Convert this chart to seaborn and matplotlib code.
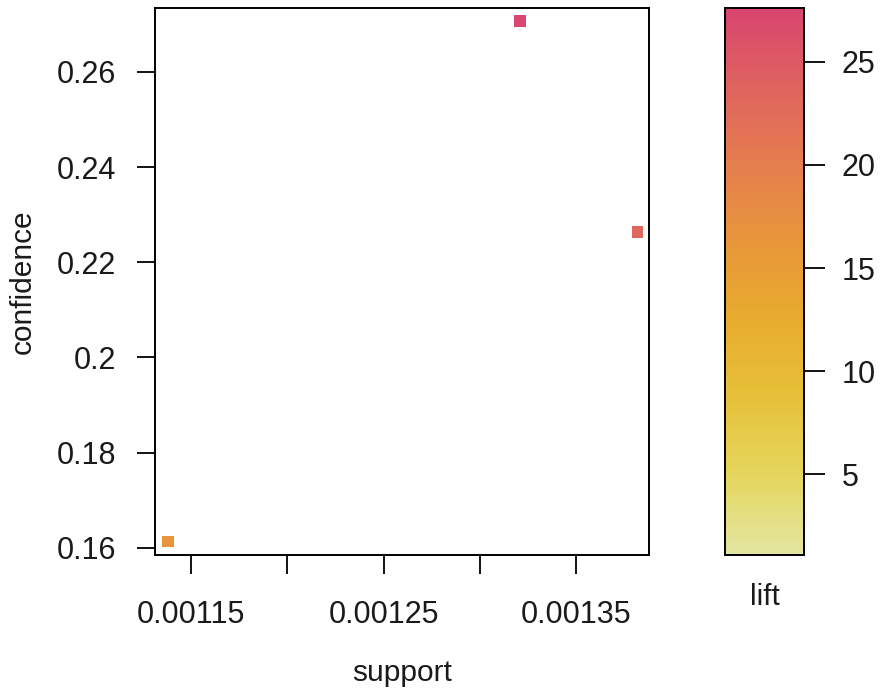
import numpy as np
import pandas as pd
import matplotlib
matplotlib.use("Agg")
import matplotlib.pyplot as plt
from matplotlib.colors import LinearSegmentedColormap, Normalize
from matplotlib.cm import ScalarMappable
import seaborn as sns

# rules
support = [0.001138, 0.001321, 0.001382]
confidence = [0.1613, 0.2707, 0.2264]
lift = [16.6, 27.2, 23.2]

lift_range = [1.1, 27.6]
x_ticks = [0.00115, 0.0012, 0.00125, 0.0013, 0.00135]
x_labels = ["0.00115", "", "0.00125", "", "0.00135"]
y_ticks = [0.16, 0.18, 0.20, 0.22, 0.24, 0.26]
y_labels = ["0.16", "0.18", "0.2", "0.22", "0.24", "0.26"]
cbar_ticks = [5, 10, 15, 20, 25]

sns.set_style("white")
plt.rcParams["font.family"] = ["Liberation Sans", "DejaVu Sans"]

# yellow -> orange -> pink, like the R heat palette
heat = LinearSegmentedColormap.from_list(
    "heat_rev",
    ["#E3E6A2", "#E5D65E", "#E7C13A", "#E8AC2E", "#E8963A",
     "#E67E4F", "#DF635F", "#D9456F"],
)
norm = Normalize(vmin=lift_range[0], vmax=lift_range[1])

df = pd.DataFrame({"support": support, "confidence": confidence, "lift": lift})

fig = plt.figure(figsize=(8.82, 6.98), dpi=100)
ax = fig.add_axes([155 / 882, 1 - 555 / 698, (649 - 155) / 882, (555 - 8) / 698])
cax = fig.add_axes([725 / 882, 1 - 555 / 698, (804 - 725) / 882, (555 - 8) / 698])

sns.scatterplot(data=df, x="support", y="confidence", hue="lift",
                palette=heat, hue_norm=norm, marker="s", s=70,
                edgecolor="none", legend=False, ax=ax)

ax.set_xlim(0.0011313, 0.0013879)
ax.set_ylim(0.1585, 0.2734)
ax.set_xticks(x_ticks)
ax.set_xticklabels(x_labels)
ax.set_yticks(y_ticks)
ax.set_yticklabels(y_labels)
ax.tick_params(axis="x", bottom=True, direction="out", length=13.5, width=1.3,
               pad=19, labelsize=22, color="black", labelcolor="#1a1a1a")
ax.tick_params(axis="y", left=True, direction="out", length=13, width=1.3,
               pad=15, labelsize=22, color="black", labelcolor="#1a1a1a")
ax.set_xlabel("support", fontsize=21.5, color="#1a1a1a", labelpad=21)
ax.set_ylabel("confidence", fontsize=21.5, color="#1a1a1a", labelpad=14)
for sp in ax.spines.values():
    sp.set_visible(True)
    sp.set_color("black")
    sp.set_linewidth(1.4)

sm = ScalarMappable(norm=norm, cmap=heat)
cb = fig.colorbar(sm, cax=cax, ticks=cbar_ticks)
cb.outline.set_edgecolor("black")
cb.outline.set_linewidth(1.4)
cax.tick_params(direction="out", length=15, width=1.3, pad=12,
                labelsize=22, color="black", labelcolor="#1a1a1a")
cax.set_xlabel("lift", fontsize=21.5, color="#1a1a1a", labelpad=20)

fig.savefig("out.png", dpi=100)
